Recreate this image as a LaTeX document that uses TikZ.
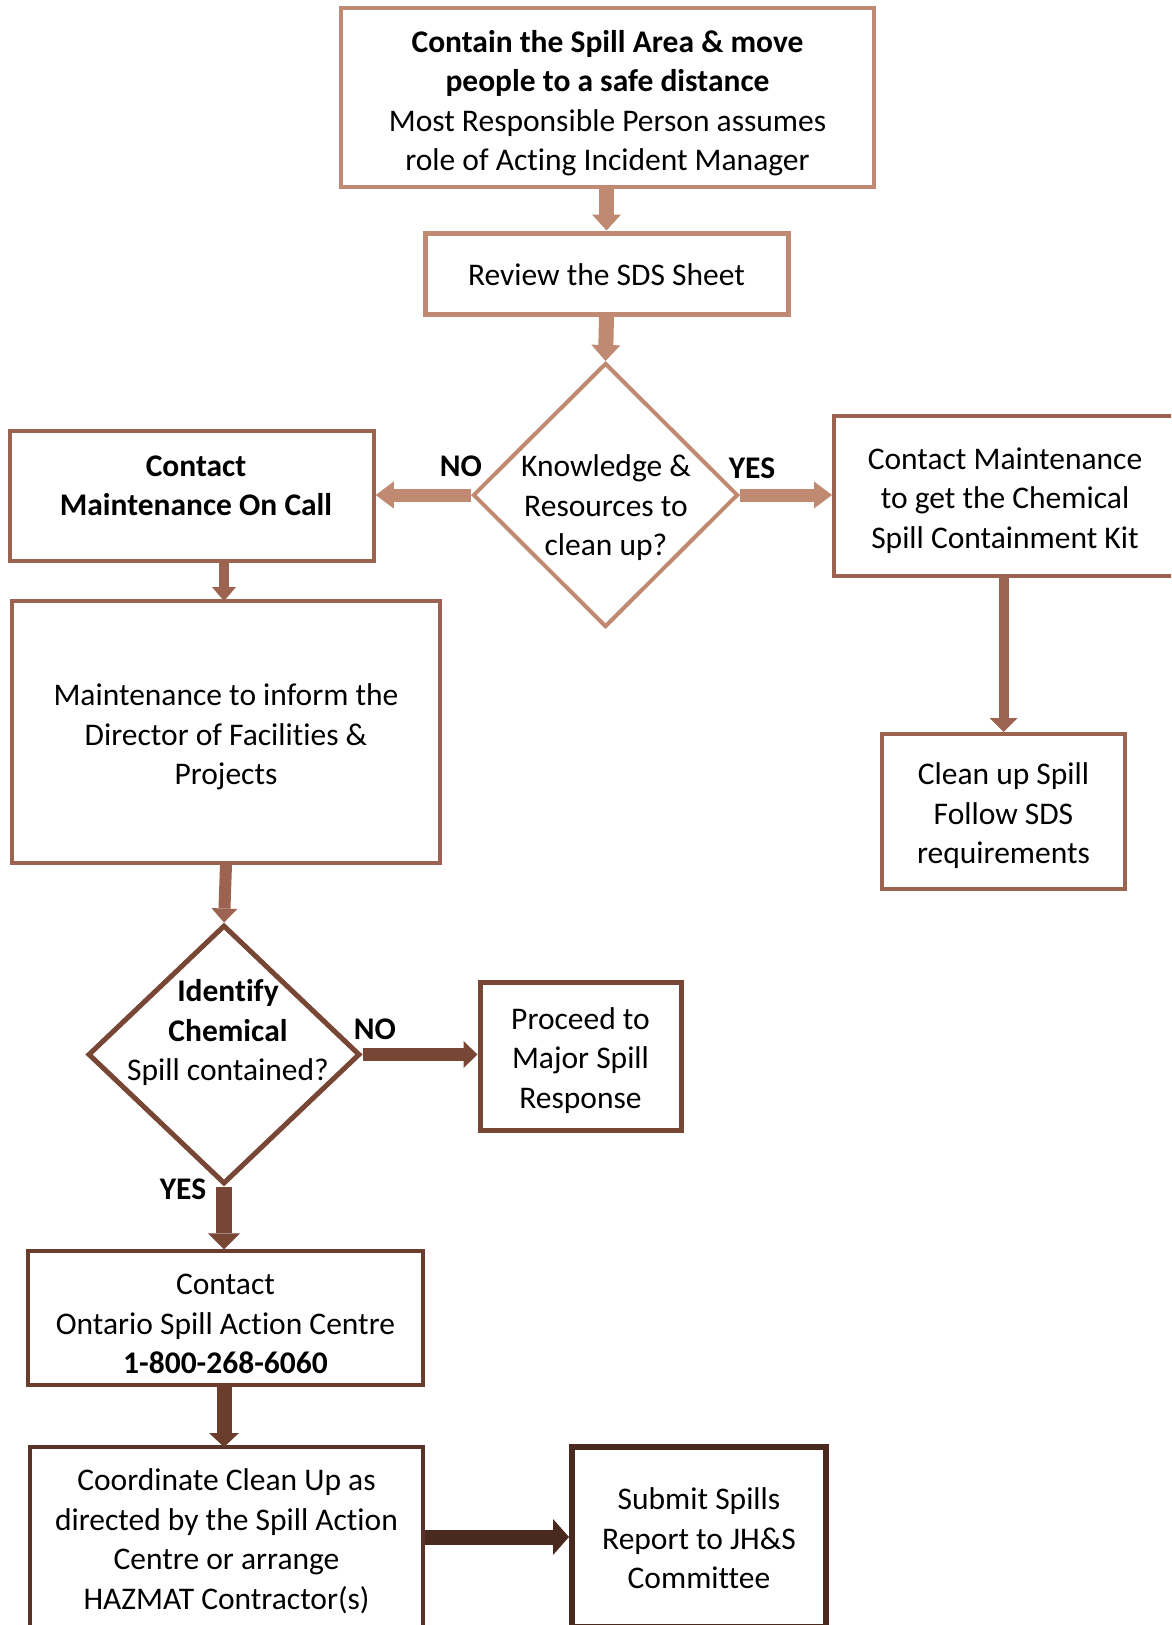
\documentclass[tikz,border=0pt]{standalone}
\usepackage{fontspec}
\setmainfont{Carlito}[Ligatures=NoCommon]
\usetikzlibrary{shapes.geometric,arrows.meta}
\definecolor{cA}{HTML}{BF8A71}
\definecolor{cB}{HTML}{9B6350}
\definecolor{cC}{HTML}{774634}
\definecolor{cD}{HTML}{6A3D2C}
\definecolor{cE}{HTML}{5A3426}
\definecolor{cF}{HTML}{4A2A1F}
\newcommand{\fsz}{\fontsize{31.5}{39.5}\selectfont}
\newcommand{\tstr}[1]{\rule{0pt}{#1pt}}
\tikzset{
  box/.style n args={3}{draw=#1, line width=#2, rectangle, inner sep=0pt, align=center, minimum width=#3},
  dia/.style={draw, diamond, inner sep=0pt, shape aspect=1},
  txt/.style={align=center, inner sep=0pt},
  lbl/.style={inner sep=0pt, font=\fsz\bfseries},
  arr/.style n args={3}{line width=#1, -{Triangle[width=#2,length=#3,line width=0pt]}},
}
\begin{document}
\begin{tikzpicture}[x=1pt,y=-1pt, font=\fsz]
\useasboundingbox (0,0) rectangle (1171,1625);
\fill[white] (0,0) rectangle (1171,1625);
\clip (0,0) rectangle (1171,1625);

% boxes
\node[box={cA}{3.5pt}{533pt}, minimum height=179pt] (top) at (607.5,97.5)
  {\tstr{33}\textbf{Contain the Spill Area \& move}\\ \textbf{people to a safe distance}\\ Most Responsible Person assumes\\ role of Acting Incident Manager};
\node[box={cA}{5pt}{363pt}, minimum height=81pt] (review) at (606.5,273.5) {\tstr{24}Review the SDS Sheet};
\node[dia, draw=cA, line width=4pt, minimum width=265pt, minimum height=264pt] (d1) at (605.5,495) {};
\node[txt] (d1t) at (606,508) {Knowledge \&\\ Resources to\\ clean up?};

\node[box={cB}{3.5pt}{364pt}, minimum height=130pt] (left) at (192,496) {};
\node[txt, font=\fsz\bfseries] (leftt) at (196,486) {Contact\\ Maintenance On Call};

\node[box={cB}{4pt}{342pt}, minimum height=160pt] (right) at (1005,496)
  {\tstr{31}Contact Maintenance\\ to get the Chemical\\ Spill Containment Kit};
\node[box={cB}{4pt}{243pt}, minimum height=155pt] (clean) at (1003.5,811.5)
  {\tstr{31}Clean up Spill\\ Follow SDS\\ requirements};

\node[box={cB}{3.5pt}{428pt}, minimum height=262pt] (inform) at (226,732)
  {\tstr{32}Maintenance to inform the\\ Director of Facilities \&\\ Projects};

\node[dia, draw=cC, line width=5pt, minimum width=272pt, minimum height=259pt] (d2) at (224,1054.5) {};
\node[txt] (d2t) at (228,1032.5) {\textbf{Identify}\\ \textbf{Chemical}\\ Spill contained?};

\node[box={cC}{5pt}{201pt}, minimum height=148pt] (proceed) at (580.5,1056)
  {\tstr{31}Proceed to\\ Major Spill\\ Response};

\node[box={cD}{3.5pt}{395pt}, minimum height=134pt] (ontario) at (225.5,1318)
  {\tstr{33}Contact\\ Ontario Spill Action Centre\\ \textbf{1-800-268-6060}};
\node[box={cE}{4pt}{393pt}, minimum height=180pt] (coord) at (226.5,1537)
  {\tstr{30}Coordinate Clean Up as\\ directed by the Spill Action\\ Centre or arrange\\ HAZMAT Contractor(s)};
\node[box={cF}{6pt}{254pt}, minimum height=180pt] (submit) at (699,1537)
  {\tstr{25}Submit Spills\\ Report to JH\&S\\ Committee};

% labels
\node[lbl] (no1) at (461,466) {NO};
\node[lbl] (yes1) at (752,468) {YES};
\node[lbl] (no2) at (375,1029) {NO};
\node[lbl] (yes2) at (183,1189) {YES};

% arrows
\draw[cA, arr={15pt}{29pt}{16pt}] (top.south -| review.north) -- (review.north);
\draw[cA, arr={15pt}{29pt}{16pt}] (review.south) -- (d1.north);
\draw[cA, arr={13pt}{27pt}{18pt}] (d1.west) -- (d1.west -| left.east);
\draw[cA, arr={13pt}{27pt}{18pt}] (d1.east) -- (d1.east -| right.west);
\draw[cB, arr={10pt}{28pt}{14pt}] (right.south -| clean.north) -- (clean.north);
\draw[cB, arr={10pt}{24pt}{14pt}] (left.south -| 224,0) -- (224,601);
\draw[cB, arr={12pt}{26pt}{14pt}] (inform.south -| 226,0) -- (d2.north);
\draw[cC, arr={13pt}{27pt}{14pt}] (d2.east) -- (d2.east -| proceed.west);
\draw[cC, arr={16pt}{32pt}{16pt}] (d2.south) -- (d2.south |- ontario.north);
\draw[cD, arr={15pt}{30pt}{14pt}] (ontario.south -| 224,0) -- (224,1447);
\draw[cF, arr={15pt}{36pt}{16pt}] (coord.east) -- (submit.west);
\end{tikzpicture}
\end{document}
